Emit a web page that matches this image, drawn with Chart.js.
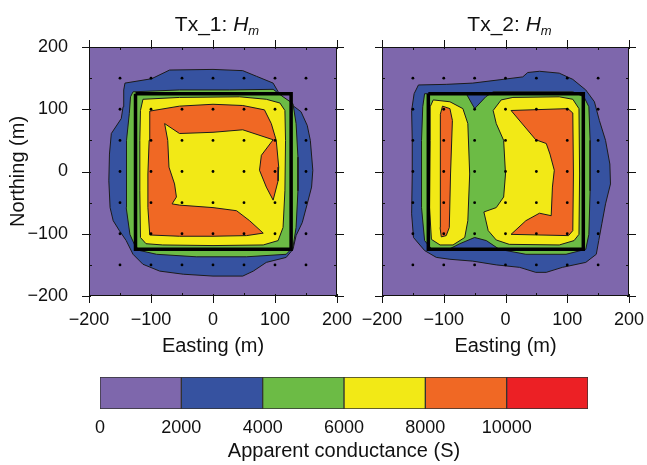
<!DOCTYPE html>
<html>
<head>
<meta charset="utf-8">
<script src="https://cdn.jsdelivr.net/npm/chart.js@4.4.0/dist/chart.umd.min.js"></script>
<style>
  body { margin: 0; background: #fff; }
  #wrap { position: relative; width: 647px; height: 465px; overflow: hidden; }
  canvas { position: absolute; }
</style>
</head>
<body>
<div id="wrap">
  <canvas id="tx1" width="380" height="360" style="left:0;top:0"></canvas>
  <canvas id="tx2" width="327" height="360" style="left:340px;top:0"></canvas>
  <canvas id="bar" width="647" height="105" style="left:0;top:360px"></canvas>
</div>
<script>
// contour levels (S) and fill colours
const levels = [0, 2000, 4000, 6000, 8000, 10000, 12000];
const levelColors = ['#7e67ac', '#3652a0', '#6cbb45', '#f2e916', '#f06824', '#ec2025'];

// station grid, loop outline (m)
const stationEast = [-150, -100, -50, 0, 50, 100, 150];
const stationNorth = [-150, -100, -50, 0, 50, 100, 150];
const loopEast = [-125, 126, 126, -125, -125];
const loopNorth = [125, 125, -125, -125, 125];
const axisTicks = [-200, -100, 0, 100, 200];

// Tx_1 contour outlines [east, north]
const tx1Blue = [[-142,142],[-99,149],[-70,163],[0,164],[48,162],[70,153],[97,142],[108,123],[126,108],[142,96],[152,74],[157,50],[161,2],[159,-25],[152,-52],[144,-82],[134,-103],[129,-125],[118,-138],[86,-146],[65,-160],[48,-168],[0,-168],[-48,-165],[-86,-160],[-113,-149],[-129,-133],[-140,-111],[-151,-95],[-161,-79],[-166,-58],[-168,-15],[-167,28],[-164,61],[-156,73],[-148,85],[-145,104],[-144,131]];
const tx1Green = [[-129,128],[-54,131],[27,131],[97,132],[113,120],[129,109],[134,77],[137,23],[137,-31],[134,-90],[129,-122],[118,-133],[54,-137],[-27,-137],[-91,-133],[-118,-127],[-126,-119],[-134,-101],[-140,-58],[-140,-4],[-139,50],[-135,93],[-133,120]];
const tx1Yellow = [[-113,116],[-54,119],[43,120],[86,116],[108,110],[116,98],[117,50],[116,-31],[113,-90],[105,-111],[81,-118],[0,-119],[-81,-118],[-108,-116],[-117,-106],[-118,-31],[-118,50],[-117,98]];
const tx1Orange = [[-102,97],[-54,105],[0,108],[48,106],[83,99],[94,77],[102,50],[106,7],[105,-15],[97,-46],[86,-25],[75,2],[78,26],[97,51],[48,67],[0,63],[-54,61],[-78,77],[-73,50],[-71,7],[-62,-20],[-59,-41],[-66,-52],[-54,-54],[0,-58],[38,-63],[59,-79],[81,-99],[54,-103],[0,-104],[-54,-104],[-102,-102],[-105,-58],[-105,-4],[-103,50]];

// Tx_2 contour outlines [east, north]
const tx2Blue = [[-141,139],[-96,140],[-53,142],[-4,148],[28,152],[36,159],[55,161],[87,158],[109,148],[130,131],[144,112],[152,82],[162,50],[169,12],[170,-20],[162,-52],[156,-84],[151,-111],[147,-133],[130,-146],[92,-154],[66,-162],[49,-162],[23,-154],[-15,-150],[-53,-144],[-90,-141],[-112,-138],[-131,-127],[-149,-106],[-152,-68],[-151,-4],[-151,50],[-152,98],[-148,125]];
const tx2Green = [[-131,125],[-63,124],[-50,101],[-32,120],[-20,128],[109,128],[127,120],[135,104],[137,50],[137,-31],[135,-101],[130,-125],[98,-133],[33,-133],[-10,-125],[-31,-111],[-50,-106],[-74,-116],[-96,-127],[-120,-124],[-131,-111],[-136,-58],[-136,50],[-134,104]];
const tx2YellowWest = [[-117,115],[-90,112],[-69,101],[-61,77],[-58,-4],[-61,-79],[-66,-106],[-85,-118],[-106,-118],[-120,-109],[-123,-58],[-122,50],[-122,104]];
const tx2OrangeWest = [[-102,105],[-90,101],[-86,82],[-89,-4],[-91,-90],[-96,-103],[-104,-105],[-106,-90],[-106,-4],[-105,92]];
const tx2YellowEast = [[-20,98],[-7,115],[12,119],[87,120],[109,116],[119,101],[120,-4],[119,-101],[111,-111],[87,-118],[6,-117],[-15,-110],[-28,-95],[-35,-65],[-15,-58],[-3,-41],[0,-4],[-3,50],[-15,77]];
const tx2OrangeEast = [[9,98],[101,101],[109,94],[110,-4],[109,-95],[102,-103],[9,-101],[33,-79],[55,-67],[74,-71],[76,-25],[79,2],[72,28],[66,45],[49,51]];

const FONT = "'Liberation Sans', Arial, Helvetica, sans-serif";
const MINUS = '\u2212';

function polygon(pts, color) {
    const data = pts.map(p => ({ x: p[0], y: p[1] }));
    data.push({ x: pts[0][0], y: pts[0][1] });
    return {
        data: data,
        borderColor: '#1b1b1b',
        borderWidth: 1,
        backgroundColor: color,
        fill: 'shape',
        pointRadius: 0,
        tension: 0,
    };
}

function stations() {
    const pts = [];
    stationNorth.forEach(n => stationEast.forEach(e => pts.push({ x: e, y: n })));
    return {
        data: pts,
        showLine: false,
        pointRadius: 1.4,
        pointBackgroundColor: '#000',
        pointBorderWidth: 0,
    };
}

function loop() {
    return {
        data: loopEast.map((e, i) => ({ x: e, y: loopNorth[i] })),
        borderColor: '#000',
        borderWidth: 3.5,
        fill: false,
        pointRadius: 0,
        tension: 0,
    };
}

function fmt(v) {
    return v < 0 ? MINUS + Math.abs(v) : String(v);
}

// purple base, frame and ticks on all four sides
const framePlugin = {
    id: 'frame',
    beforeDatasetsDraw(chart) {
        const { ctx, chartArea: a } = chart;
        ctx.save();
        ctx.fillStyle = levelColors[0];
        ctx.fillRect(a.left, a.top, a.right - a.left, a.bottom - a.top);
        ctx.restore();
    },
    afterDatasetsDraw(chart) {
        const { ctx, chartArea: a, scales: { x, y } } = chart;
        ctx.save();
        ctx.strokeStyle = '#111';
        ctx.lineWidth = 1;
        ctx.strokeRect(a.left + 0.5, a.top + 0.5, a.right - a.left - 1, a.bottom - a.top - 1);
        ctx.beginPath();
        for (let v = -200; v <= 200; v += 50) {
            const major = v % 100 === 0;
            const out = major ? 7 : 0;
            const inn = major ? 2 : 3;
            const px = Math.round(x.getPixelForValue(v)) + 0.5;
            const py = Math.round(y.getPixelForValue(v)) + 0.5;
            ctx.moveTo(px, a.bottom + out); ctx.lineTo(px, a.bottom - inn);
            ctx.moveTo(px, a.top - out); ctx.lineTo(px, a.top + inn);
            ctx.moveTo(a.left - out, py); ctx.lineTo(a.left + inn, py);
            ctx.moveTo(a.right + out, py); ctx.lineTo(a.right - inn, py);
        }
        ctx.stroke();
        ctx.restore();
    },
    afterDraw(chart) {
        // title "Tx_n: H_m"
        const { ctx, chartArea: a } = chart;
        const label = chart.options.plugins.frame.label;
        ctx.save();
        ctx.fillStyle = '#111';
        ctx.textBaseline = 'alphabetic';
        const f1 = '21px ' + FONT, f2 = 'italic 21px ' + FONT, f3 = 'italic 13px ' + FONT;
        ctx.font = f1; const w1 = ctx.measureText(label).width;
        ctx.font = f2; const w2 = ctx.measureText('H').width;
        ctx.font = f3; const w3 = ctx.measureText('m').width;
        let x0 = (a.left + a.right) / 2 - (w1 + w2 + w3) / 2 + 4;
        const base = 31;
        ctx.font = f1; ctx.fillText(label, x0, base);
        ctx.font = f2; ctx.fillText('H', x0 + w1, base);
        ctx.font = f3; ctx.fillText('m', x0 + w1 + w2, base + 4);
        ctx.restore();
    }
};

function mapChart(id, label, layers, showYLabels, yWidth, padRight) {
    const datasets = [stations(), loop()].concat(layers);
    return new Chart(document.getElementById(id), {
        type: 'line',
        data: { datasets: datasets },
        plugins: [framePlugin],
        options: {
            responsive: false,
            animation: false,
            events: [],
            layout: { padding: { top: 47, right: padRight, left: 0, bottom: 0 } },
            plugins: {
                legend: { display: false },
                tooltip: { enabled: false },
                frame: { label: label },
            },
            scales: {
                x: {
                    type: 'linear', min: -200, max: 200,
                    afterBuildTicks: s => { s.ticks = axisTicks.map(v => ({ value: v })); },
                    afterFit: s => { s.height = 64; },
                    grid: { display: false }, border: { display: false },
                    ticks: { padding: 5, color: '#111', font: { family: FONT, size: 18 }, callback: v => fmt(v) },
                    title: { display: true, text: 'Easting (m)', color: '#111', font: { family: FONT, size: 20 }, padding: { bottom: 2 } },
                },
                y: {
                    type: 'linear', min: -200, max: 200,
                    afterBuildTicks: s => { s.ticks = axisTicks.map(v => ({ value: v })); },
                    afterFit: s => { s.width = yWidth; },
                    grid: { display: false }, border: { display: false },
                    ticks: { display: showYLabels, padding: 13, color: '#111', font: { family: FONT, size: 18 }, callback: v => fmt(v) },
                    title: { display: showYLabels, text: 'Northing (m)', color: '#111', font: { family: FONT, size: 20 }, padding: { top: 6 } },
                },
            },
        },
    });
}

mapChart('tx1', 'Tx_1: ', [
    polygon(tx1Orange, levelColors[4]),
    polygon(tx1Yellow, levelColors[3]),
    polygon(tx1Green, levelColors[2]),
    polygon(tx1Blue, levelColors[1]),
], true, 89, 43);

mapChart('tx2', 'Tx_2: ', [
    polygon(tx2OrangeWest, levelColors[4]),
    polygon(tx2OrangeEast, levelColors[4]),
    polygon(tx2YellowWest, levelColors[3]),
    polygon(tx2YellowEast, levelColors[3]),
    polygon(tx2Green, levelColors[2]),
    polygon(tx2Blue, levelColors[1]),
], false, 42, 38);

// colour scale
const bandSets = levelColors.map((c, i) => ({
    data: [[levels[i], levels[i + 1]]],
    backgroundColor: c,
    borderColor: '#333',
    borderWidth: 1,
    borderSkipped: false,
    grouped: false,
    barPercentage: 1,
    categoryPercentage: 1,
}));

new Chart(document.getElementById('bar'), {
    type: 'bar',
    data: { labels: [''], datasets: bandSets },
    options: {
        indexAxis: 'y',
        responsive: false,
        animation: false,
        events: [],
        layout: { padding: { top: 17, left: 100, right: 59, bottom: 0 } },
        plugins: { legend: { display: false }, tooltip: { enabled: false } },
        scales: {
            y: { display: false },
            x: {
                type: 'linear', min: 0, max: 12000,
                afterFit: s => { s.height = 56; },
                grid: { display: false }, border: { display: false },
                ticks: { stepSize: 2000, padding: 0, color: '#111', font: { family: FONT, size: 18 },
                         callback: v => (v < 12000 ? String(v) : '') },
                title: { display: true, text: 'Apparent conductance (S)', color: '#111', font: { family: FONT, size: 20 }, padding: { bottom: 2 } },
            },
        },
    },
});
</script>
</body>
</html>
